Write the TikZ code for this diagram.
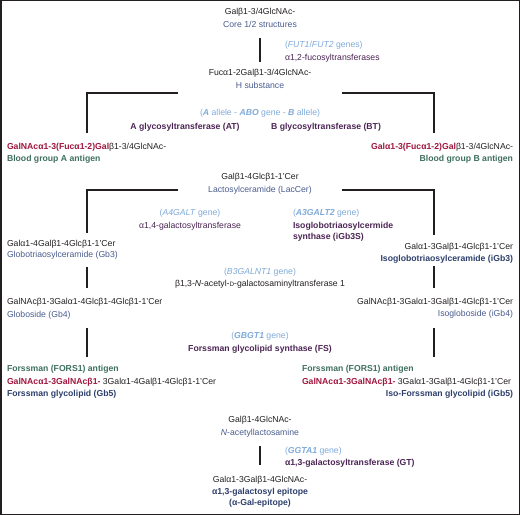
\documentclass[tikz,border=0pt]{standalone}
\usepackage{fontspec}
\setmainfont{Liberation Sans}
\usetikzlibrary{calc}
\definecolor{ink}{HTML}{231F20}
\definecolor{descc}{HTML}{4A5C8E}
\definecolor{genec}{HTML}{7FAAD9}
\definecolor{enzc}{HTML}{4B2454}
\definecolor{redc}{HTML}{A0163E}
\definecolor{grnc}{HTML}{3E6F5C}
\definecolor{navyc}{HTML}{2C3E6B}
\newcommand{\fs}{\fontsize{8.7}{10.4}\selectfont}
\newcommand{\smD}{{\fontsize{6.3}{7}\selectfont D}}
\newcommand{\rb}[1]{\textcolor{redc}{\textbf{#1}}}
\newcommand{\gb}[1]{\textbf{\textit{#1}}}
\begin{document}
\begin{tikzpicture}[x=1bp,y=-1bp,
  every node/.style={inner sep=0pt,outer sep=0pt,font=\fs,text=ink},
  ctr/.style={anchor=base},
  lft/.style={anchor=base west},
  rgt/.style={anchor=base east},
  desc/.style={text=descc},
  gene/.style={text=genec},
  enz/.style={text=enzc},
  enzb/.style={text=enzc,font=\fs\bfseries},
  grn/.style={text=grnc,font=\fs\bfseries},
  nvy/.style={text=navyc,font=\fs\bfseries},
  conn/.style={draw=ink,line width=1.6bp},
  frame/.style={draw=ink,line width=1.5bp}]
\useasboundingbox (0,0) rectangle (520,515);
\draw[frame] (0.75,0.75) rectangle (519.25,514.25);

% Core / H
\node[ctr] (core1) at (260,15) {Galβ1-3/4GlcNAc-};
\node[ctr,desc] (core2) at (260,28) {Core 1/2 structures};
\node[lft,gene] (fut1) at (285,48) {(\textit{FUT1}/\textit{FUT2} genes)};
\node[lft,enz] (fut2) at (285,61) {α1,2-fucosyltransferases};
\node[ctr] (h1) at (260,76) {Fucα1-2Galβ1-3/4GlcNAc-};
\node[ctr,desc] (h2) at (260,89) {H substance};
\draw[conn] ($(core2.base)+(0,10)$) -- ($(h1.base)+(0,-14)$);

% ABO
\node[ctr,gene] (abo) at (260,116) {(\gb{A} allele - \gb{ABO} gene - \gb{B} allele)};
\node[ctr,enzb] (at) at (185,130) {A glycosyltransferase (AT)};
\node[ctr,enzb] (bt) at (326,130) {B glycosyltransferase (BT)};
\node[lft] (aA1) at (7,150) {\rb{GalNAcα1-3(Fucα1-2)Gal}β1-3/4GlcNAc-};
\node[lft,grn] (aA2) at (7,162) {Blood group A antigen};
\node[rgt] (aB1) at (513,150) {\rb{Galα1-3(Fucα1-2)Gal}β1-3/4GlcNAc-};
\node[rgt,grn] (aB2) at (513,162) {Blood group B antigen};
\draw[conn] ($(h2.base)+(-82,4)$) -| ($(aA1.base west)+(80,-17)$);
\draw[conn] ($(h2.base)+(82,4)$) -| ($(aB1.base east)+(-79,-17)$);

% LacCer
\node[ctr] (lac1) at (260,180) {Galβ1-4Glcβ1-1'Cer};
\node[ctr,desc] (lac2) at (260,193) {Lactosylceramide (LacCer)};
\node[ctr,gene] (a4g1) at (190,215) {(\textit{A4GALT} gene)};
\node[ctr,enz] (a4g2) at (190,228) {α1,4-galactosyltransferase};
\node[lft,gene] (a3g1) at (293,215) {(\gb{A3GALT2} gene)};
\node[lft,enzb] (a3g2) at (293,228) {Isoglobotriaosylcermide};
\node[lft,enzb] (a3g3) at (293,239) {synthase (iGb3S)};
\node[lft] (gb3L1) at (7,246) {Galα1-4Galβ1-4Glcβ1-1'Cer};
\node[lft,desc] (gb3L2) at (7,257) {Globotriaosylceramide (Gb3)};
\node[rgt] (igb3R1) at (513,249) {Galα1-3Galβ1-4Glcβ1-1'Cer};
\node[rgt,nvy] (igb3R2) at (513,261) {Isoglobotriaosylceramide (iGb3)};
\draw[conn] ($(lac2.base)+(-82,-3)$) -| ($(gb3L1.base west)+(80,-13)$);
\draw[conn] ($(lac2.base)+(82,-3)$) -| ($(igb3R1.base east)+(-79,-14)$);

% B3GALNT1
\node[ctr,gene] (b3g1) at (260,274) {(\textit{B3GALNT1} gene)};
\node[ctr] (b3g2) at (260,286) {β1,3-\textit{N}-acetyl-\smD-galactosaminyltransferase 1};
\node[lft] (gb4L1) at (7,304) {GalNAcβ1-3Galα1-4Glcβ1-4Glcβ1-1'Cer};
\node[lft,desc] (gb4L2) at (7,317) {Globoside (Gb4)};
\node[rgt] (igb4R1) at (513,304) {GalNAcβ1-3Galα1-3Galβ1-4Glcβ1-1'Cer};
\node[rgt,desc] (igb4R2) at (513,316) {Isogloboside (iGb4)};
\draw[conn] ($(gb3L2.base west)+(80,10)$) -- ($(gb4L1.base west)+(80,-16)$);
\draw[conn] ($(igb3R2.base east)+(-79,5)$) -- ($(igb4R1.base east)+(-79,-16)$);

% GBGT1
\node[ctr,gene] (gbg1) at (260,338) {(\gb{GBGT1} gene)};
\node[ctr,enzb] (gbg2) at (260,351) {Forssman glycolipid synthase (FS)};
\node[lft,grn] (gb5L1) at (7,371) {Forssman (FORS1) antigen};
\node[lft] (gb5L2) at (7,384) {\rb{GalNAcα1-3GalNAcβ1-} 3Galα1-4Galβ1-4Glcβ1-1'Cer};
\node[lft,nvy] (gb5L3) at (7,396) {Forssman glycolipid (Gb5)};
\node[lft,grn] (igb5R1) at (302,371) {Forssman (FORS1) antigen};
\node[lft] (igb5R2) at (302,384) {\rb{GalNAcα1-3GalNAcβ1-} 3Galα1-3Galβ1-4Glcβ1-1'Cer};
\node[rgt,nvy] (igb5R3) at (513,396) {Iso-Forssman glycolipid (iGb5)};
\draw[conn] ($(gb4L2.base west)+(80,11)$) -- ($(gb5L1.base west)+(80,-14)$);
\draw[conn] ($(igb4R2.base east)+(-79,12)$) -- ($(igb5R1.base west)+(132,-14)$);

% LacNAc / alpha-Gal
\node[ctr] (ln1) at (260,422) {Galβ1-4GlcNAc-};
\node[ctr,desc] (ln2) at (260,435) {\textit{N}-acetyllactosamine};
\node[lft,gene] (gg1) at (285,453) {(\gb{GGTA1} gene)};
\node[lft,enzb] (gg2) at (285,465) {α1,3-galactosyltransferase (GT)};
\node[ctr] (ag1) at (260,482) {Galα1-3Galβ1-4GlcNAc-};
\node[ctr,nvy] (ag2) at (260,494) {α1,3-galactosyl epitope};
\node[ctr,nvy] (ag3) at (260,505) {(α-Gal-epitope)};
\draw[conn] ($(ln2.base)+(0,11)$) -- ($(ag1.base)+(0,-17)$);
\end{tikzpicture}
\end{document}
